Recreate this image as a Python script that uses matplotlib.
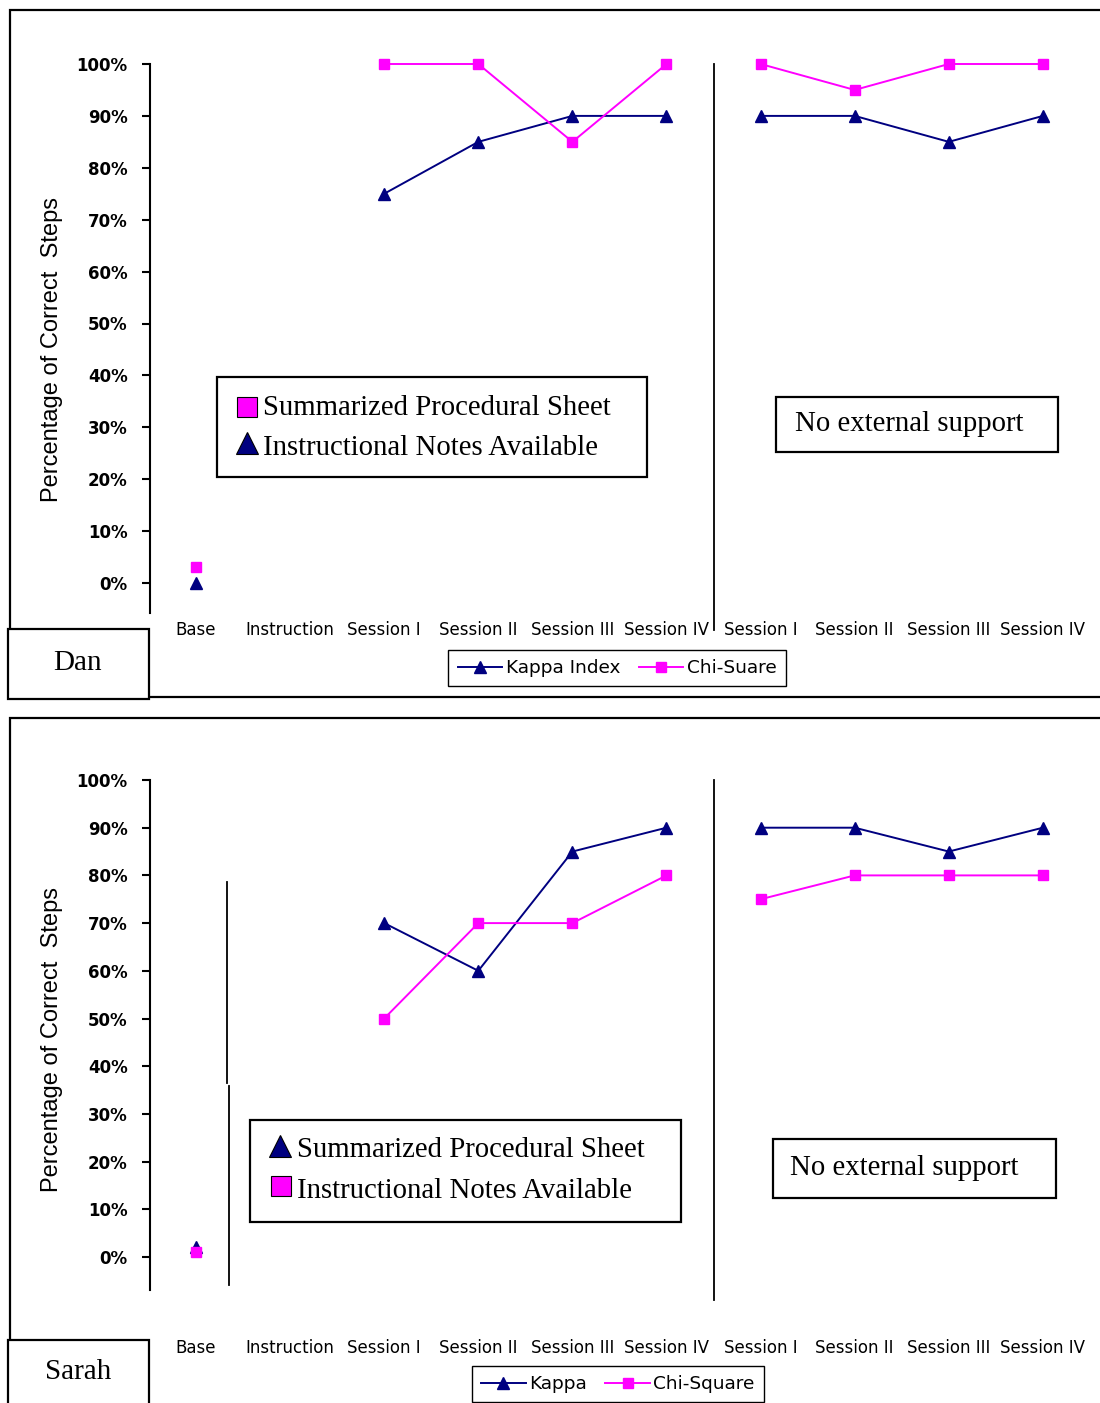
import numpy as np
import matplotlib
matplotlib.use("Agg")
import matplotlib.pyplot as plt
from matplotlib.patches import Rectangle
from matplotlib.lines import Line2D

##########################################
# Data
##########################################
categories = ["Base", "Instruction", "Session I", "Session II", "Session III", "Session IV",
              "Session I", "Session II", "Session III", "Session IV"]
yticks = [0, 10, 20, 30, 40, 50, 60, 70, 80, 90, 100]

nan = np.nan
kappa_dan = [0, nan, 75, 85, 90, 90, 90, 90, 85, 90]
chi_dan = [3, nan, 100, 100, 85, 100, 100, 95, 100, 100]
kappa_sarah = [2, nan, 70, 60, 85, 90, 90, 90, 85, 90]
chi_sarah = [1, nan, 50, 70, 70, 80, 75, 80, 80, 80]

# phases: baseline, intervention, maintenance
phases = [(0, 1), (2, 6), (6, 10)]

NAVY = "#000080"
MAGENTA = "#FF00FF"
W, H = 1100, 1403
SERIF = ["Liberation Serif", "DejaVu Serif"]
SANS = ["DejaVu Sans"]


def fx(x):
    return x / W


def fy(y):
    return 1 - y / H


fig = plt.figure(figsize=(11, 14.03), dpi=100)


def box(x0, y0, x1, y1, lw=1.6, fill=False):
    r = Rectangle((fx(x0), fy(y1)), fx(x1) - fx(x0), fy(y0) - fy(y1),
                  transform=fig.transFigure, fill=fill, facecolor="white",
                  edgecolor="black", linewidth=lw, zorder=5 if fill else 1)
    fig.add_artist(r)


def marker(x, y, m, color, size):
    fig.add_artist(Line2D([fx(x)], [fy(y)], marker=m, color=color, markersize=size,
                          markeredgecolor="black", markeredgewidth=0.8,
                          linestyle="none", transform=fig.transFigure))


def panel(top, zero, bottom, kappa, chi, labpad, sep_bottom, label_y):
    # pixels per percent
    scale = (zero - top) / 100.0
    ymin = -(bottom - zero) / scale
    step = 94.1
    xl = (150 - 196) / step
    xr = (1100 - 196) / step
    ax = fig.add_axes([fx(150), fy(bottom), fx(1100) - fx(150), fy(top) - fy(bottom)])
    ax.set_xlim(xl, xr)
    ax.set_ylim(ymin, 100)
    ax.patch.set_alpha(0)
    for s in ["top", "right", "bottom"]:
        ax.spines[s].set_visible(False)
    ax.spines["left"].set_linewidth(1.5)
    ax.set_yticks(yticks)
    ax.set_yticklabels([f"{v}%" for v in yticks], fontsize=12, fontweight="bold",
                       family=SANS)
    ax.tick_params(axis="y", length=6, width=1.5, pad=10)
    ax.set_xticks(range(len(categories)))
    ax.set_xticklabels(categories, fontsize=12, family=SANS)
    ax.tick_params(axis="x", length=0, pad=labpad)
    x = np.arange(len(categories))
    lk = lc = None
    for a, b in phases:
        lk, = ax.plot(x[a:b], kappa[a:b], color=NAVY, lw=1.4, marker="^", markersize=8,
                      clip_on=False, zorder=3)
        lc, = ax.plot(x[a:b], chi[a:b], color=MAGENTA, lw=1.4, marker="s", markersize=7,
                      clip_on=False, zorder=4)
    # phase change line
    ax.plot([5.5, 5.5], [100, -(sep_bottom - zero) / scale], color="black", lw=1.3,
            clip_on=False)
    ax.set_ylabel("Percentage of Correct  Steps", family=["Liberation Sans", "DejaVu Sans"],
                  fontsize=17)
    ax.yaxis.set_label_coords(-(150 - 63) / 950.0, (bottom - label_y) / (bottom - top))
    return ax, lk, lc


##########################################
# Dan
##########################################
box(10, 10, 1110, 697)
ax1, k1, c1 = panel(64, 583, 613, kappa_dan, chi_dan, 6, 630, 349)

box(217, 377, 647, 477)
marker(247, 407, "s", MAGENTA, 14)
fig.text(fx(263), fy(408), "Summarized Procedural Sheet", family=SERIF, fontsize=20.7,
         va="center", ha="left")
marker(247, 443, "^", NAVY, 16)
fig.text(fx(263), fy(448), "Instructional Notes Available", family=SERIF, fontsize=20.7,
         va="center", ha="left")

box(776, 397, 1058, 452)
fig.text(fx(909), fy(424), "No external support", family=SERIF, fontsize=20.7,
         va="center", ha="center")

box(8, 629, 149, 699, fill=True)
fig.text(fx(78), fy(663), "Dan", family=SERIF, fontsize=21, va="center", ha="center",
         zorder=6)

fig.legend([k1, c1], ["Kappa Index", "Chi-Suare"], loc="center",
           bbox_to_anchor=(fx(617), fy(668)), ncol=2, frameon=True, fancybox=False,
           edgecolor="black", framealpha=1, handlelength=2.4, handletextpad=0.2,
           columnspacing=1.0, borderpad=0.5, prop={"family": SANS, "size": 13.3})

##########################################
# Sarah
##########################################
box(10, 718, 1110, 1420)
ax2, k2, c2 = panel(780, 1257, 1290, kappa_sarah, chi_sarah, 35, 1300, 1040)

# baseline / instruction divider
fig.add_artist(Line2D([fx(227), fx(227)], [fy(882), fy(1083)], color="black", lw=1.3,
                      transform=fig.transFigure))
fig.add_artist(Line2D([fx(229), fx(229)], [fy(1086), fy(1285)], color="black", lw=1.3,
                      transform=fig.transFigure))

box(250, 1120, 681, 1222)
marker(280, 1146, "^", NAVY, 16)
fig.text(fx(297), fy(1150), "Summarized Procedural Sheet", family=SERIF, fontsize=20.7,
         va="center", ha="left")
marker(281, 1186, "s", MAGENTA, 14)
fig.text(fx(297), fy(1191), "Instructional Notes Available", family=SERIF, fontsize=20.7,
         va="center", ha="left")

box(773, 1139, 1056, 1198)
fig.text(fx(904), fy(1168), "No external support", family=SERIF, fontsize=20.7,
         va="center", ha="center")

box(8, 1340, 149, 1420, fill=True)
fig.text(fx(78), fy(1372), "Sarah", family=SERIF, fontsize=21, va="center", ha="center",
         zorder=6)

fig.legend([k2, c2], ["Kappa", "Chi-Square"], loc="center",
           bbox_to_anchor=(fx(618), fy(1384)), ncol=2, frameon=True, fancybox=False,
           edgecolor="black", framealpha=1, handlelength=2.4, handletextpad=0.2,
           columnspacing=1.0, borderpad=0.5, prop={"family": SANS, "size": 13.3})

plt.savefig("out.png", dpi=100)
